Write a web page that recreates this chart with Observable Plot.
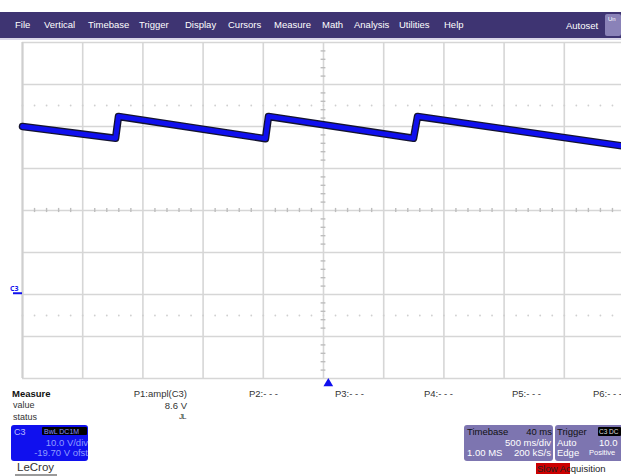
<!DOCTYPE html>
<html><head><meta charset="utf-8">
<script src="https://cdn.jsdelivr.net/npm/d3@7"></script>
<script src="https://cdn.jsdelivr.net/npm/@observablehq/plot@0.6"></script>
<style>
html,body{margin:0;padding:0;background:#fff;}
#root{position:relative;width:621px;height:476px;overflow:hidden;font-family:"Liberation Sans",Arial,sans-serif;}
#chart{position:absolute;left:0;top:0;width:640px;height:476px;}
#chart svg{max-width:none !important;}
.abs{position:absolute;white-space:nowrap;line-height:1;}
</style></head>
<body>
<div id="root">
<div id="chart"></div>
</div>
<script>
// ---- data ----
const timeSec = [-2.5, -1.727, -1.703, -0.482, -0.457, 0.748, 0.781, 2.5];
const voltsC3 = [39.7, 36.9, 42.1, 36.8, 42.1, 36.9, 42.1, 35.0];
const voltsPerDiv = 10;
const offsetV = -19.70;
const secPerDiv = 0.5;
const triggerDelay = 0.04;
const menuItems = ["File","Vertical","Timebase","Trigger","Display","Cursors","Measure","Math","Analysis","Utilities","Help"];
const paramLabels = ["P1:ampl(C3)","P2:- - -","P3:- - -","P4:- - -","P5:- - -","P6:- - -"];
const paramValue = "8.6 V";

// ---- derived ----
const center = -offsetV;
const yMin = center - 4*voltsPerDiv, yMax = center + 4*voltsPerDiv;
const xMin = -5*secPerDiv, xMax = 5*secPerDiv;
const trace = timeSec.map((t,i)=>({t, v: voltsC3[i]}));
const xDivs = d3.range(-5,6).map(k=>k*secPerDiv);
const yDivs = d3.range(-4,5).map(k=>center + k*voltsPerDiv);
const xMinor = d3.range(-25,26).filter(k=>k%5!==0).map(k=>k*secPerDiv/5);
const yMinor = d3.range(-20,21).filter(k=>k%5!==0).map(k=>center + k*voltsPerDiv/5);
const dotted = [center + 2.5*voltsPerDiv, center - 2.5*voltsPerDiv];
const dotRowX = d3.range(-25,26).map(k=>k*secPerDiv/5);
const dotRows = dotted.flatMap(v=>dotRowX.map(t=>({t,v})));

const blue = "#1010ee";
const plot = Plot.plot({
  width: 640, height: 476,
  marginLeft: 22, marginRight: 16, marginTop: 42, marginBottom: 98,
  x: {domain: [xMin, xMax], axis: null},
  y: {domain: [yMin, yMax], axis: null},
  style: {background: "transparent", overflow: "visible", maxWidth: "none"},
  marks: [
    Plot.ruleX(xDivs, {stroke: "#d6d6d6", strokeWidth: 1.6}),
    Plot.ruleY(yDivs, {stroke: "#d6d6d6", strokeWidth: 1.6}),
    Plot.ruleX([xMin], {stroke: "#cfcfcf", strokeWidth: 2}),
    Plot.ruleX(xMinor, {y1: center - 0.5, y2: center + 0.5, stroke: "#bdbdbd", strokeWidth: 1.4}),
    Plot.ruleY(yMinor, {x1: -0.02, x2: 0.02, stroke: "#bdbdbd", strokeWidth: 1.4}),
    Plot.dot(dotRows, {x: "t", y: "v", r: 0.9, fill: "#cfcfcf", stroke: null}),
    Plot.line(trace, {x: "t", y: "v", stroke: "#141430", strokeWidth: 7.5, strokeLinejoin: "round"}),
    Plot.line(trace, {x: "t", y: "v", stroke: blue, strokeWidth: 4.8, strokeLinejoin: "round"}),
    Plot.ruleY([0], {x1: xMin - 0.075, x2: xMin, stroke: blue, strokeWidth: 2}),
    Plot.text([0], {x: xMin, y: d=>d, text: ()=>"C3", dx: -4, dy: -4, textAnchor: "end", fill: blue, fontSize: 7, fontWeight: "bold"}),
    Plot.dot([triggerDelay], {x: d=>d, y: yMin, symbol: "triangle", r: 3.6, fill: blue, stroke: null, dy: 5})
  ]
});
plot.style.maxWidth = "none";
plot.setAttribute("width", 640);
document.getElementById("chart").appendChild(plot);

// ---- instrument chrome (HTML) ----
const root = document.getElementById("root");
function box(l,t,w,h,bg,extra){const d=document.createElement("div");d.className="abs";Object.assign(d.style,{left:l+"px",top:t+"px",width:w+"px",height:h+"px",background:bg},extra||{});root.appendChild(d);return d;}
function txt(s,l,t,size,color,extra){const d=document.createElement("div");d.className="abs";d.textContent=s;Object.assign(d.style,{left:l+"px",top:t+"px",fontSize:size+"px",color:color},extra||{});root.appendChild(d);return d;}
function txtR(s,r,t,size,color,extra){const d=txt(s,0,t,size,color,extra);d.style.left="auto";d.style.right=(621-r)+"px";return d;}

box(0,12,621,26,"#3e3472");
box(0,38,621,2,"#d9d6e8");
const menuX = [15,44,88,139,185,228,274,322,354,399,444];
menuItems.forEach((m,i)=>txt(m,menuX[i],20,9.5,"#ffffff"));
txt("Autoset",566,21,9.5,"#ffffff");
box(605,14,16,22,"#8a82b8",{borderRadius:"2px"});
txt("Un",608,16,6,"#ffffff");

// measure table
txt("Measure",12,389,9.5,"#111",{fontWeight:"bold"});
txt("value",13,401,9,"#333");
txt("status",13,413,9,"#333");
const pX = [187,277,363,452,540,621];
paramLabels.forEach((p,i)=>{ if(i===0) txtR(p,pX[i],389,9.5,"#333"); else txt(p,pX[i]-28,389,9.5,"#333"); });
txtR(paramValue,187,401,9.5,"#333");
txt("JL",179,413,8,"#333",{letterSpacing:"-1px"});

// channel box
box(11,425,77,36,blue,{borderRadius:"3px"});
txt("C3",14,428,9,"#b8bcff");
box(42,427,45,8,"#000",{borderRadius:"1px"});
txt("BwL DC1M",44,428,7,"#8890ff");
txtR("10.0 V/div",88,438,9.5,"#8f9cff");
txtR("-19.70 V ofst",88,448,9.5,"#8f9cff");

// LeCroy
txt("LeCroy",17,462,11.5,"#333");
box(15,474,42,2,"#9a9a9a");

// timebase box
box(464,425,89,36,"#7d75b0",{borderRadius:"3px"});
txt("Timebase",467,427,9.5,"#111");
txtR("40 ms",552,427,9.5,"#111");
txtR("500 ms/div",551,438,9.5,"#fff");
txt("1.00 MS",467,448,9.5,"#fff");
txtR("200 kS/s",551,448,9.5,"#fff");

// trigger box
box(555,425,70,36,"#7d75b0",{borderRadius:"3px"});
txt("Trigger",557,427,9.5,"#111");
box(598,427,23,9,"#000",{borderRadius:"1px"});
txt("C3 DC",599,428.5,6.5,"#ddd");
txt("Auto",557,438,9.5,"#fff");
txt("10.0",599,438,9.5,"#fff");
txt("Edge",557,448,9.5,"#fff");
txt("Positive",589,449,7.5,"#fff");

// slow acquisition
box(536,463,34,11,"#cc0000");
txt("Slow Acquisition",537,464,9.5,"#222");
</script>
</body></html>
